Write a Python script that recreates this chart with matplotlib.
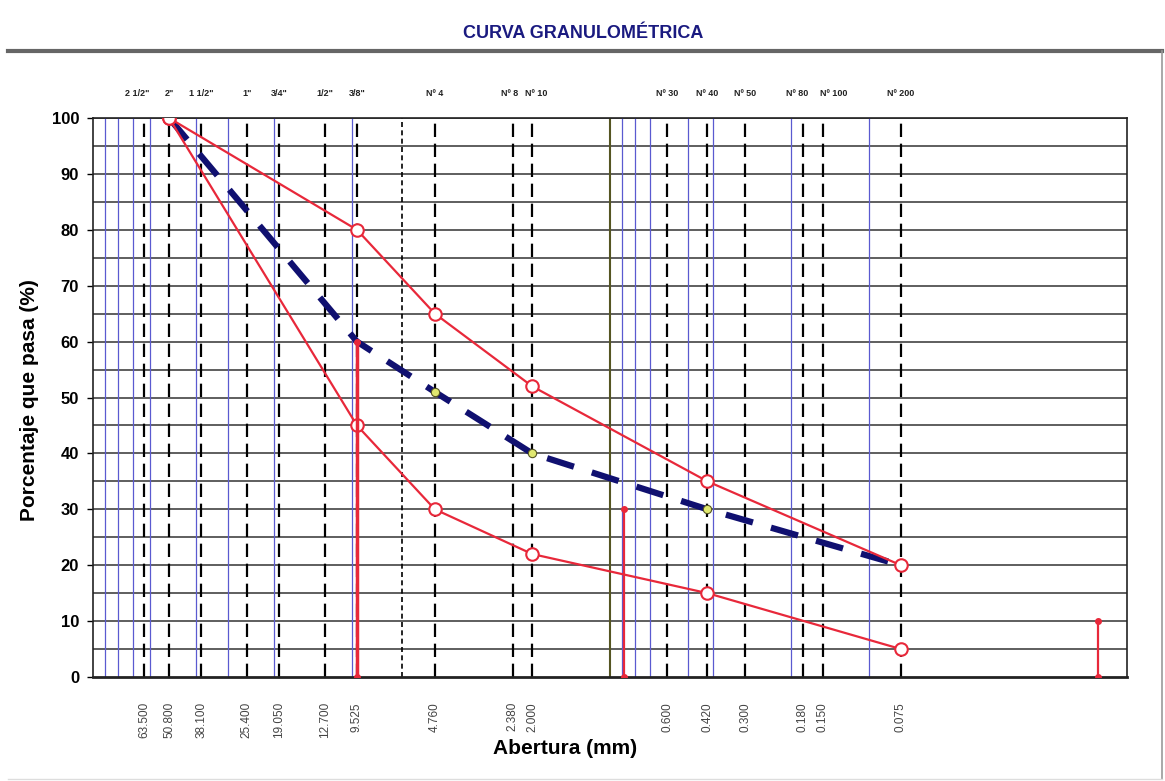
import matplotlib.pyplot as plt
from matplotlib.lines import Line2D

# sieve openings (mm) and names
sieve_mm = [63.5, 50.8, 38.1, 25.4, 19.05, 12.7, 9.525, 4.76, 2.38, 2.0,
            0.6, 0.42, 0.3, 0.18, 0.15, 0.075]
sieve_names = ['2 1/2"', '2"', '1 1/2"', '1"', '3/4"', '1/2"', '3/8"', 'Nº 4',
               'Nº 8', 'Nº 10', 'Nº 30', 'Nº 40', 'Nº 50', 'Nº 80', 'Nº 100', 'Nº 200']
sieve_labels = ['63.500', '50.800', '38.100', '25.400', '19.050', '12.700', '9.525',
                '4.760', '2.380', '2.000', '0.600', '0.420', '0.300', '0.180',
                '0.150', '0.075']

# grading band and sample curve
curve_mm = [50.8, 9.525, 4.76, 2.0, 0.42, 0.075]
upper_pct = [100, 80, 65, 52, 35, 20]
lower_pct = [100, 45, 30, 22, 15, 5]
sample_pct = [100, 60, 51, 40, 30, 20]

# minor log grid lines drawn in blue
blue_mm = [90, 80, 70, 60, 40, 30, 20, 10, 0.9, 0.8, 0.7, 0.5, 0.4, 0.2, 0.1]
quarter_mm = 6.35
one_mm = 1.0

# D60 / D30 / D10 markers
d_mm = [9.525, 0.88, 0.013]
d_pct = [60, 30, 10]

plt.rcParams['font.family'] = ['Liberation Sans', 'DejaVu Sans']

fig = plt.figure(figsize=(11.65, 7.81), dpi=100)
ax = fig.add_axes([93/1165, 1-677/781, (1127-93)/1165, (677-118)/781])

ax.set_xscale('log')
ax.set_xlim(100, 0.01)
ax.set_ylim(0, 100)

# horizontal grid every 5 %
for y in range(5, 101, 5):
    ax.axhline(y, color='#333333', lw=1.1, zorder=1)

for x in blue_mm:
    ax.axvline(x, color='#5a5ad0', lw=0.9, zorder=1)
for x in sieve_mm:
    ax.axvline(x, color='black', lw=1.6, ls=(0, (6, 3)), zorder=2)
ax.axvline(quarter_mm, color='black', lw=1.2, ls=(0, (3, 2)), zorder=2)
ax.axvline(one_mm, color='#555522', lw=1.5, zorder=2)

# curves
ax.plot(curve_mm, upper_pct, color='#e8283a', lw=1.6, marker='o', ms=9,
        mfc='white', mec='#e8283a', mew=1.5, zorder=5)
ax.plot(curve_mm, lower_pct, color='#e8283a', lw=1.6, marker='o', ms=9,
        mfc='white', mec='#e8283a', mew=1.5, zorder=5)
ax.plot(curve_mm, sample_pct, color='#101070', lw=4.5, ls=(0, (4.5, 3)),
        zorder=4)
ax.plot(curve_mm[2:5], sample_pct[2:5], ls='none', marker='o', ms=6,
        mfc='#e0e870', mec='#555522', mew=0.8, zorder=6)

for x, y in zip(d_mm, d_pct):
    ax.plot([x, x], [0, y], color='#e8283a', lw=2.5 if y == 60 else 1.6,
            marker='o', ms=4, zorder=6)

for s in ax.spines.values():
    s.set_color('#222222')
    s.set_linewidth(1.2)
ax.spines['bottom'].set_linewidth(2)

ax.set_yticks(range(0, 101, 10))
ax.set_yticklabels([str(v) for v in range(0, 101, 10)], fontsize=12,
                   fontweight='bold')
ax.tick_params(axis='y', length=4, width=1, pad=6)

ax.set_xticks(sieve_mm)
ax.set_xticklabels(sieve_labels, rotation=90, fontsize=8.5, color='#444444',
                   va='top')
ax.xaxis.set_minor_locator(plt.NullLocator())
ax.tick_params(axis='x', length=0, pad=18)

# sieve names above the plot (a few nudged sideways so they don't collide)
nudge = {'2 1/2"': -5, 'Nº 8': -2, 'Nº 10': 3, 'Nº 80': -4, 'Nº 100': 8}
for mm, name in zip(sieve_mm, sieve_names):
    ax.annotate(name, xy=(mm, 1), xycoords=('data', 'axes fraction'),
                xytext=(nudge.get(name, 0), 18), textcoords='offset points',
                ha='center', va='center', fontsize=6.5, fontweight='bold',
                color='#222222')

fig.text(565/1165, 1-748/781, 'Abertura (mm)', ha='center', va='center',
         fontsize=15, fontweight='bold')
fig.text(30/1165, 1-400/781, 'Porcentaje que pasa (%)', ha='center',
         va='center', rotation=90, fontsize=15, fontweight='bold')
fig.text(583/1165, 1-33/781, 'CURVA GRANULOMÉTRICA', ha='center', va='center',
         fontsize=13, fontweight='bold', color='#1a1a80')

# frame below the title
fig.add_artist(Line2D([8/1165, 1162/1165], [1-51/781, 1-51/781],
                      color='#666666', lw=3, transform=fig.transFigure))
fig.add_artist(Line2D([1162/1165, 1162/1165], [1-51/781, 1-779/781],
                      color='#999999', lw=1.2, transform=fig.transFigure))
fig.add_artist(Line2D([8/1165, 1162/1165], [1-779/781, 1-779/781],
                      color='#dddddd', lw=1, transform=fig.transFigure))

fig.savefig('out.png', dpi=100)
